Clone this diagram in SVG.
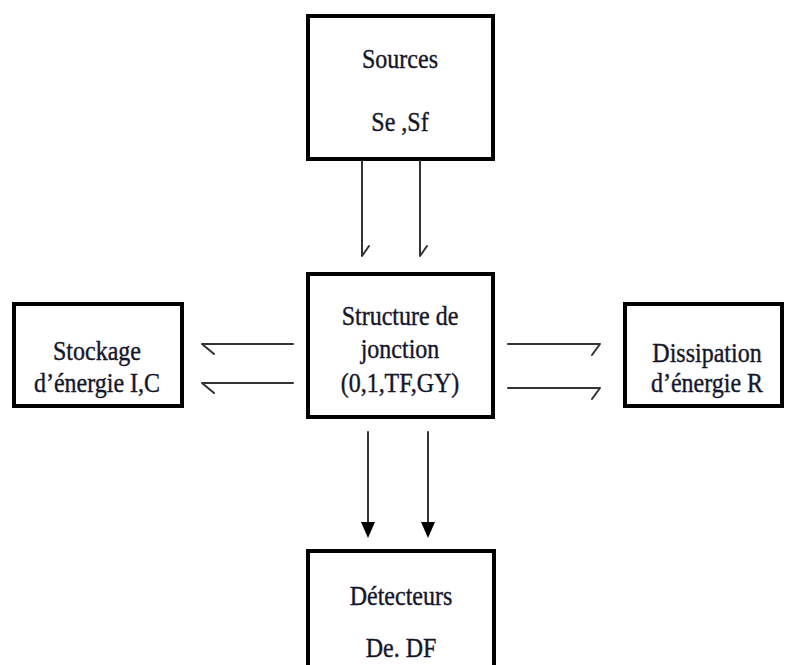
<svg xmlns="http://www.w3.org/2000/svg" width="785" height="665" viewBox="0 0 785 665">
  <style>
    .box { fill: #ffffff; stroke: #000000; stroke-width: 4; }
    .lbl { font-family: 'Liberation Serif', 'DejaVu Serif', serif; font-size: 24px; fill: #16162a; stroke: #16162a; stroke-width: 0.35; text-anchor: middle; }
    .ln { fill: none; stroke: #333333; stroke-width: 2; stroke-linecap: round; stroke-linejoin: round; }
    .head { fill: #000000; stroke: none; }
  </style>
  <rect width="785" height="665" fill="#ffffff"/>

  <g id="sources">
    <rect class="box" x="308" y="16" width="185" height="143"/>
    <text class="lbl" transform="translate(400 68) scale(1 1.15)">Sources</text>
    <text class="lbl" transform="translate(400 131) scale(1 1.15)">Se ,Sf</text>
  </g>

  <g id="junction">
    <rect class="box" x="308" y="274" width="185" height="143"/>
    <text class="lbl" transform="translate(400 325) scale(1 1.15)">Structure de</text>
    <text class="lbl" transform="translate(400 358) scale(1 1.15)">jonction</text>
    <text class="lbl" transform="translate(400 392) scale(1 1.15)">(0,1,TF,GY)</text>
  </g>

  <g id="storage">
    <rect class="box" x="14" y="304" width="168" height="102"/>
    <text class="lbl" transform="translate(97 360) scale(1 1.15)">Stockage</text>
    <text class="lbl" transform="translate(97 392) scale(1 1.15)">d’énergie I,C</text>
  </g>

  <g id="dissipation">
    <rect class="box" x="625" y="304" width="157" height="102"/>
    <text class="lbl" transform="translate(707 362) scale(1 1.15)">Dissipation</text>
    <text class="lbl" transform="translate(707 392) scale(1 1.15)">d’énergie R</text>
  </g>

  <g id="detectors">
    <rect class="box" x="308" y="551" width="186" height="130"/>
    <text class="lbl" transform="translate(401 605) scale(1 1.15)">Détecteurs</text>
    <text class="lbl" transform="translate(401 657) scale(1 1.15)">De. DF</text>
  </g>

  <g id="connectors">
    <!-- sources to junction: half arrowheads -->
    <path class="ln" d="M362 161 V256 L369 246"/>
    <path class="ln" d="M420 161 V256 L427 246"/>
    <!-- junction to storage -->
    <path class="ln" d="M293 344 H202 L214 354"/>
    <path class="ln" d="M293 383 H202 L214 393"/>
    <!-- junction to dissipation -->
    <path class="ln" d="M508 344 H600 L592 355"/>
    <path class="ln" d="M508 388 H600 L592 399"/>
    <!-- junction to detectors -->
    <path class="ln" d="M368 432 V524"/>
    <path class="ln" d="M428 432 V524"/>
    <path class="head" d="M361 522 H375 L368 538 Z"/>
    <path class="head" d="M421 522 H435 L428 538 Z"/>
  </g>
</svg>
